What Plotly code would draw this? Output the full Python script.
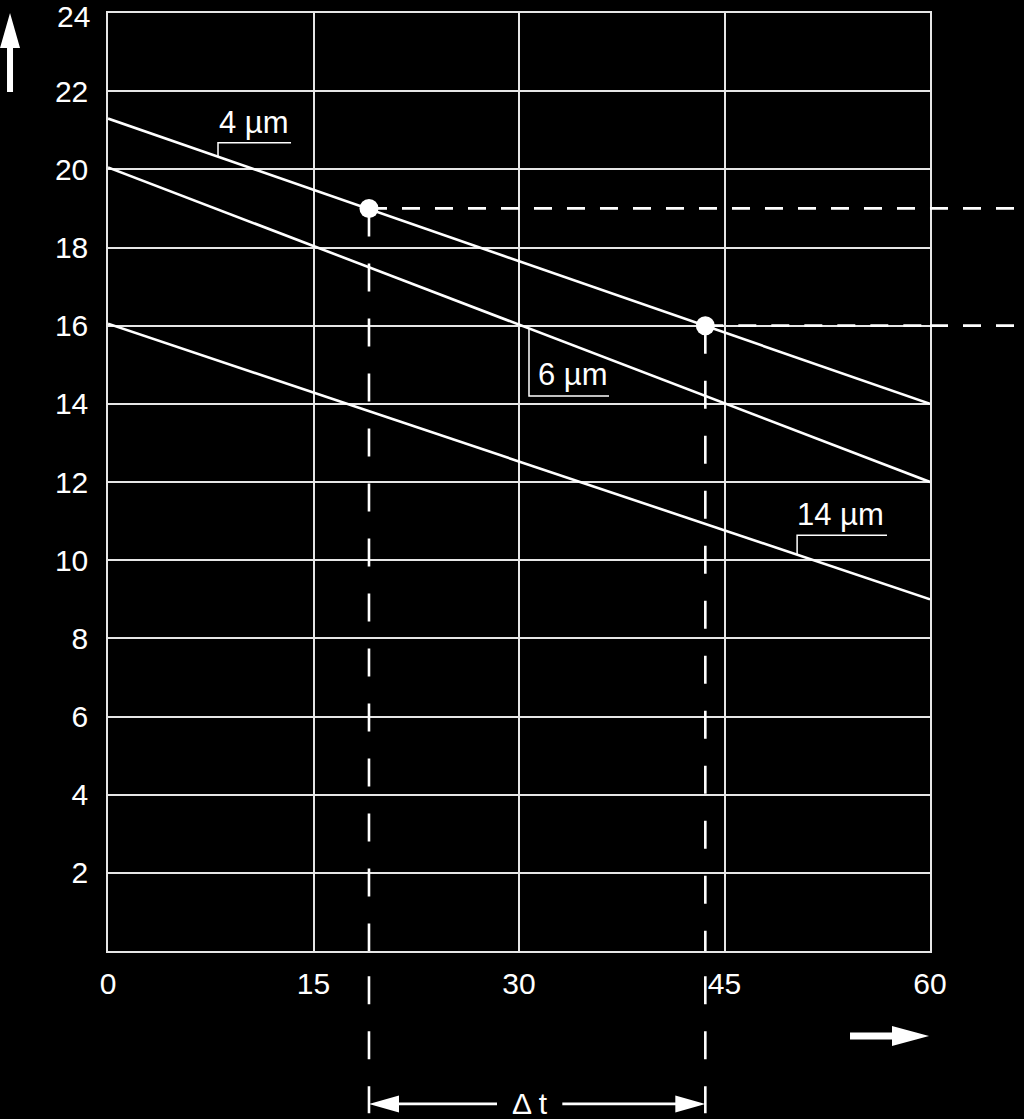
import plotly.graph_objects as go

# ---- data ----
x_ends = [0, 60]
line_4um = [21.3, 14.0]
line_6um = [20.05, 12.0]
line_14um = [16.05, 9.0]
series_names = ["4 µm", "6 µm", "14 µm"]
points_x = [19.05, 43.6]
points_y = [19.0, 16.0]
x_ticks = [0, 15, 30, 45, 60]
y_ticks = [2, 4, 6, 8, 10, 12, 14, 16, 18, 20, 22, 24]

FONT = "Liberation Sans, Arial, sans-serif"
WHITE = "#ffffff"
GRID = "#e6e6e6"

fig = go.Figure()

for name, ys in zip(series_names, [line_4um, line_6um, line_14um]):
    fig.add_trace(go.Scatter(x=x_ends, y=ys, mode="lines", name=name,
                             line=dict(color=WHITE, width=2.6), hoverinfo="skip"))

fig.add_trace(go.Scatter(x=points_x, y=points_y, mode="markers",
                         marker=dict(color=WHITE, size=19), hoverinfo="skip"))

shapes = []
HDASH = "18px,15px"
VDASH = "28px,27px"
for px, py in zip(points_x, points_y):
    shapes.append(dict(type="line", xref="x", yref="y", x0=px, x1=x_ends[1], y0=py, y1=py,
                       line=dict(color=WHITE, width=2.6, dash=HDASH)))
    shapes.append(dict(type="line", xref="paper", yref="y", x0=1.0, x1=1.12, y0=py, y1=py,
                       line=dict(color=WHITE, width=2.6, dash=HDASH)))
    shapes.append(dict(type="line", xref="x", yref="y", x0=px, x1=px, y0=py, y1=0,
                       line=dict(color=WHITE, width=2.6, dash=VDASH)))
    shapes.append(dict(type="line", xref="x", yref="paper", x0=px, x1=px, y0=-0.027, y1=-0.173,
                       line=dict(color=WHITE, width=2.6, dash=VDASH)))

# leader lines for the labels
leaders = [
    [(8.03, 20.32), (8.03, 20.68), (13.36, 20.68)],
    [(30.73, 15.93), (30.73, 14.2), (36.57, 14.2)],
    [(50.3, 10.14), (50.3, 10.64), (56.86, 10.64)],
]
for pts in leaders:
    path = "M {} {} L {} {} L {} {}".format(pts[0][0], pts[0][1], pts[1][0], pts[1][1], pts[2][0], pts[2][1])
    shapes.append(dict(type="path", xref="x", yref="y", path=path,
                       line=dict(color=WHITE, width=1.5)))

# Δt dimension arrows (pixel-sized paths anchored at the two points' x)
left_arrow = "M 0 0 L 30 8.5 L 30 1.3 L 128 1.3 L 128 -1.3 L 30 -1.3 L 30 -8.5 Z"
right_arrow = "M 0 0 L -30 8.5 L -30 1.3 L -143 1.3 L -143 -1.3 L -30 -1.3 L -30 -8.5 Z"
for anchor_x, p in [(points_x[0], left_arrow), (points_x[1], right_arrow)]:
    shapes.append(dict(type="path", xref="x", yref="paper", xsizemode="pixel", ysizemode="pixel",
                       xanchor=anchor_x, yanchor=-0.163, path=p,
                       fillcolor=WHITE, line=dict(color=WHITE, width=0)))

# axis direction arrows
up_arrow = "M 0 0 L 10 -35 L 3 -35 L 3 -79 L -3 -79 L -3 -35 L -10 -35 Z"
rt_arrow = "M 0 0 L -37 10 L -37 3.5 L -79 3.5 L -79 -3.5 L -37 -3.5 L -37 -10 Z"
shapes.append(dict(type="path", xref="paper", yref="paper", xsizemode="pixel", ysizemode="pixel",
                   xanchor=-0.1192, yanchor=1.0, path=up_arrow,
                   fillcolor=WHITE, line=dict(color=WHITE, width=0)))
shapes.append(dict(type="path", xref="paper", yref="paper", xsizemode="pixel", ysizemode="pixel",
                   xanchor=0.9988, yanchor=-0.0906, path=rt_arrow,
                   fillcolor=WHITE, line=dict(color=WHITE, width=0)))

annotations = []
label_pos = [(10.66, 21.19), (33.94, 14.76), (53.5, 11.18)]
for name, (lx, ly) in zip(series_names, label_pos):
    annotations.append(dict(x=lx, y=ly, xref="x", yref="y", text=name, showarrow=False,
                            font=dict(family=FONT, size=31, color=WHITE)))

annotations.append(dict(x=(points_x[0] + points_x[1]) / 2, y=-0.163, xref="x", yref="paper",
                        text="Δ t", showarrow=False, yanchor="middle", xshift=-7,
                        font=dict(family=FONT, size=30, color=WHITE)))

# top tick label drawn as annotation so it sits fully inside the page
top_tick = y_ticks[-1]
annotations.append(dict(x=0, y=top_tick, xref="paper", yref="y", text=str(top_tick),
                        showarrow=False, xanchor="right", yanchor="middle", xshift=-16, yshift=-3,
                        font=dict(family=FONT, size=30, color=WHITE)))
y_text = [str(v) if v != top_tick else "" for v in y_ticks]

fig.update_layout(
    width=1024, height=1119,
    margin=dict(l=108, r=94, t=13, b=168, autoexpand=False),
    paper_bgcolor="black", plot_bgcolor="black",
    showlegend=False,
    shapes=shapes, annotations=annotations,
    font=dict(family=FONT, color=WHITE, size=30),
    xaxis=dict(range=[0, 60], tickvals=x_ticks, ticktext=[str(v) for v in x_ticks],
               showgrid=True, gridcolor=GRID, gridwidth=1.5, zeroline=False,
               showline=True, linecolor=GRID, linewidth=1.5, mirror=True,
               ticks="", ticklabelstandoff=5, ticklabeloverflow="allow", automargin=False,
               tickfont=dict(family=FONT, size=30, color=WHITE), fixedrange=True),
    yaxis=dict(range=[0, 24], tickvals=y_ticks, ticktext=y_text,
               showgrid=True, gridcolor=GRID, gridwidth=1.5, zeroline=False,
               showline=True, linecolor=GRID, linewidth=1.5, mirror=True,
               ticks="", ticklabelstandoff=12, ticklabeloverflow="allow", automargin=False,
               tickfont=dict(family=FONT, size=30, color=WHITE), fixedrange=True),
)

fig.write_html("out.html", config={"displayModeBar": False},
               post_script="document.body.style.margin='0';document.body.style.background='black';")
